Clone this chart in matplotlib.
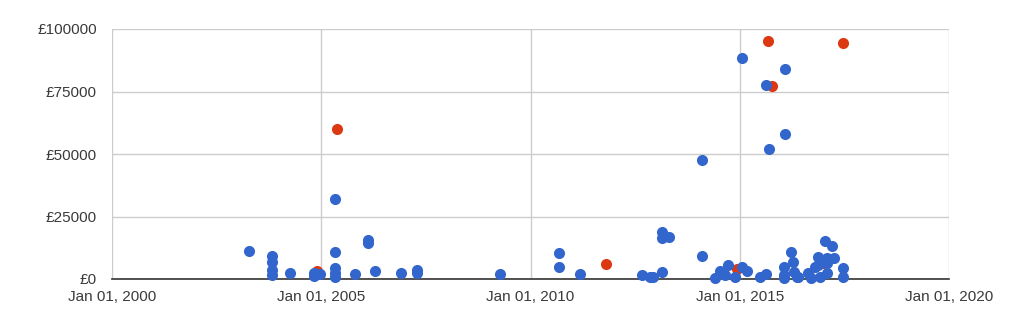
import matplotlib
matplotlib.use("Agg")
import matplotlib.pyplot as plt
import matplotlib.dates as mdates
import numpy as np

# blue series: (date, value in GBP)
blue_dates = [
    "2003-04-08",
    "2003-10-27", "2003-10-27", "2003-10-27", "2003-10-27",
    "2004-04-01",
    "2004-10-30", "2004-10-30",
    "2004-12-20",
    "2005-05-01", "2005-05-01", "2005-05-01", "2005-05-01", "2005-05-01",
    "2005-10-23",
    "2006-02-14", "2006-02-14",
    "2006-04-12",
    "2006-11-25",
    "2007-04-15", "2007-04-15",
    "2009-04-08",
    "2010-09-05", "2010-09-05",
    "2011-03-07",
    "2012-08-28", "2012-11-10", "2012-12-05",
    "2013-02-21", "2013-02-21", "2013-02-21",
    "2013-04-22",
    "2014-02-06", "2014-02-06",
    "2014-05-30", "2014-07-13", "2014-08-25", "2014-09-20", "2014-11-20",
    "2015-01-20", "2015-01-20",
    "2015-03-04", "2015-06-25",
    "2015-08-17", "2015-08-17",
    "2015-09-12",
    "2016-01-22", "2016-01-22", "2016-01-22",
    "2016-01-30", "2016-01-30",
    "2016-03-21", "2016-04-11", "2016-04-20", "2016-05-11", "2016-05-20",
    "2016-08-17", "2016-09-16", "2016-10-20",
    "2016-11-13", "2016-11-13", "2016-12-02",
    "2017-01-15",
    "2017-01-30", "2017-01-30", "2017-01-30",
    "2017-03-15", "2017-04-02",
    "2017-06-21", "2017-06-21",
]
blue_values = [
    11200,
    9300, 6900, 3600, 1600,
    2400,
    2300, 1200,
    2000,
    32000, 10900, 4300, 2300, 900,
    2000,
    15600, 14300,
    3200,
    2400,
    3600, 2500,
    2000,
    10500, 4700,
    2100,
    1500, 700, 900,
    18700, 16300, 2800,
    16700,
    47600, 9200,
    300, 3300, 1600, 5600, 900,
    88300, 4900,
    3200, 700,
    77600, 2000,
    51900,
    4900, 1600, 400,
    83900, 57900,
    10700, 6900, 2900, 900, 1000,
    2600, 500, 4900,
    8800, 5600, 900,
    15200,
    8300, 6300, 2300,
    13200, 8600,
    4300, 900,
]

# red series
red_dates = [
    "2004-11-24", "2005-05-18", "2011-10-19", "2014-12-05",
    "2015-09-01", "2015-10-07", "2016-12-27", "2017-06-21",
]
red_values = [3300, 60000, 5900, 3900, 95200, 77200, 6300, 94500]

x_ticks = ["2000-01-01", "2005-01-01", "2010-01-01", "2015-01-01", "2020-01-01"]
y_ticks = [0, 25000, 50000, 75000, 100000]

plt.rcParams['font.family'] = ['Liberation Sans', 'DejaVu Sans']

fig = plt.figure(figsize=(10.24, 3.32), dpi=100)
ax = fig.add_axes([112 / 1024, 1 - 279 / 332, 837 / 1024, 250 / 332])

bd = np.array(blue_dates, dtype="datetime64[D]")
rd = np.array(red_dates, dtype="datetime64[D]")
ax.scatter(rd, red_values, s=64, color="#dc3912", linewidths=0, zorder=3, clip_on=False)
ax.scatter(bd, blue_values, s=64, color="#3366cc", linewidths=0, zorder=4, clip_on=False)

xt = np.array(x_ticks, dtype="datetime64[D]")
ax.set_xlim(xt[0], xt[-1])
ax.set_ylim(0, 100000)
ax.set_xticks(xt)
ax.xaxis.set_major_formatter(mdates.DateFormatter("%b %d, %Y"))
ax.set_yticks(y_ticks)
ax.set_yticklabels(["£%d" % v for v in y_ticks])

ax.grid(True, color="#cccccc", linewidth=1)
ax.set_axisbelow(True)
for side in ["top", "right", "left"]:
    ax.spines[side].set_visible(False)
ax.spines["bottom"].set_color("#333333")
ax.spines["bottom"].set_linewidth(1.2)
ax.spines["bottom"].set_zorder(2)
ax.tick_params(length=0, labelsize=11, colors="#3a3a3a")
ax.tick_params(axis="y", pad=11)
ax.tick_params(axis="x", pad=8)

plt.savefig("out.png", dpi=100)
